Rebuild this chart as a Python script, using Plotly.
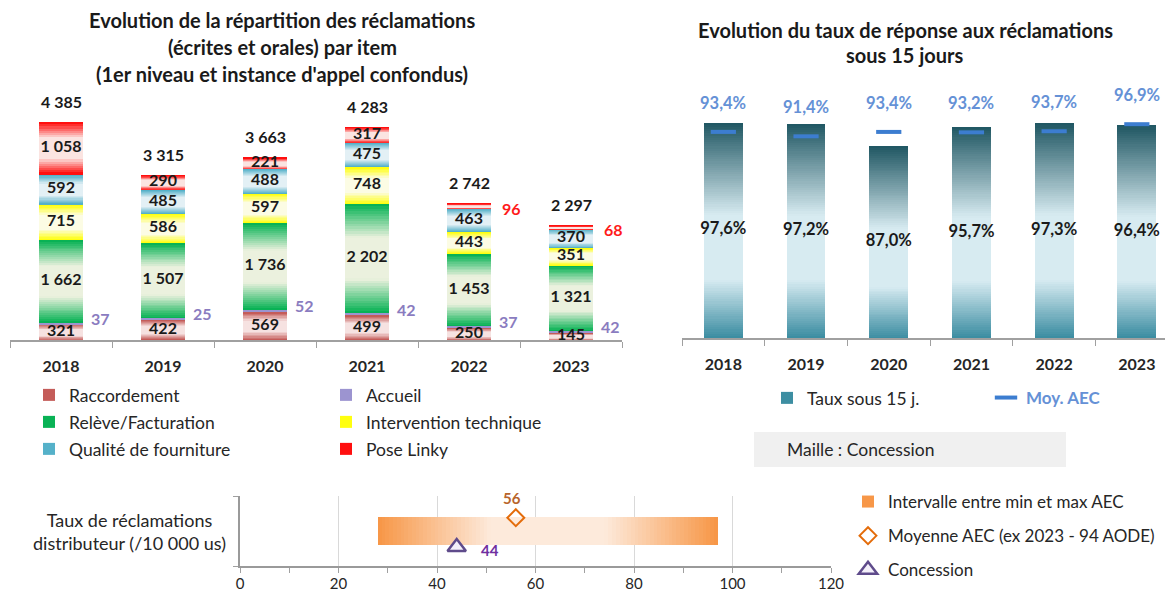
import plotly.graph_objects as go

# ---------------- data ----------------
YEARS = ["2018", "2019", "2020", "2021", "2022", "2023"]

RACCORDEMENT = [321, 422, 569, 499, 250, 145]
ACCUEIL = [37, 25, 52, 42, 37, 42]
RELEVE_FACTURATION = [1662, 1507, 1736, 2202, 1453, 1321]
INTERVENTION_TECHNIQUE = [715, 586, 597, 748, 443, 351]
QUALITE_FOURNITURE = [592, 485, 488, 475, 463, 370]
POSE_LINKY = [1058, 290, 221, 317, 96, 68]
TOTALS = [4385, 3315, 3663, 4283, 2742, 2297]

TAUX_SOUS_15J = [97.6, 97.2, 87.0, 95.7, 97.3, 96.4]
MOY_AEC = [93.4, 91.4, 93.4, 93.2, 93.7, 96.9]

RATE_CATEGORY = "Taux de réclamations<br>distributeur (/10 000 us)"
AEC_MIN = 28
AEC_MAX = 97
AEC_MOYENNE = 56
CONCESSION = 44

# ---------------- helpers ----------------
PAGE_W, PAGE_H = 1173, 599
OFF = 8  # default margin of the html body around the figure
W, H = PAGE_W - 2 * OFF, PAGE_H - 2 * OFF
FONT = "Lato, 'Open Sans', sans-serif"
DARK = "#262626"


def px(x):
    return (x - OFF) / W


def py(y):
    return 1 - (y - OFF) / H


def rgb(h):
    h = h.lstrip("#")
    return [int(h[i:i + 2], 16) for i in (0, 2, 4)]


def mix(c1, c2, f):
    a, b = rgb(c1), rgb(c2)
    return "rgb(%d,%d,%d)" % tuple(round(a[i] + (b[i] - a[i]) * f) for i in range(3))


def sym_grad(edge, center, t, gain):
    f = min(1.0, (1 - abs(2 * t - 1)) * gain)
    return mix(edge, center, f)


def stops_grad(stops, t):
    for (t0, c0), (t1, c1) in zip(stops[:-1], stops[1:]):
        if t0 <= t <= t1:
            return mix(c0, c1, (t - t0) / (t1 - t0) if t1 > t0 else 0)
    return stops[-1][1]


def fmt_int(v):
    return f"{v:,}".replace(",", " ")


def fmt_pct(v):
    return f"{v:.1f}%".replace(".", ",")


fig = go.Figure()
annotations = []

# ---------------- left chart : stacked bars ----------------
LEFT_SERIES = [
    dict(name="Raccordement", values=RACCORDEMENT, edge="#c0504d", center="#f6e2e1", legend="legend", slices=20),
    dict(name="Accueil", values=ACCUEIL, edge="#9c94d0", center="#c9c4e8", legend="legend", slices=1),
    dict(name="Relève/Facturation", values=RELEVE_FACTURATION, edge="#00b050", center="#ebf1de", legend="legend2", slices=44),
    dict(name="Intervention technique", values=INTERVENTION_TECHNIQUE, edge="#ffff00", center="#fcfce4", legend="legend2", slices=24),
    dict(name="Qualité de fourniture", values=QUALITE_FOURNITURE, edge="#4bacc6", center="#e3f0f5", legend="legend3", slices=24),
    dict(name="Pose Linky", values=POSE_LINKY, edge="#ff0000", center="#fbe4e1", legend="legend3", slices=24),
]
LEFT_BAR_WIDTH = 0.43
PL_OUTSIDE_BELOW = 150

for s in LEFT_SERIES:
    k_n = s["slices"]
    for k in range(k_n):
        t = (k + 0.5) / k_n
        col = s["edge"] if k_n == 1 else sym_grad(s["edge"], s["center"], t, 1.6)
        fig.add_trace(go.Bar(
            x=YEARS, y=[v / k_n for v in s["values"]], width=LEFT_BAR_WIDTH,
            marker=dict(color=col, line=dict(width=0)),
            name=s["name"], legendgroup=s["name"], showlegend=(k == 0),
            legend=s["legend"], hoverinfo="skip", xaxis="x", yaxis="y"))

cum = [0] * len(YEARS)
in_x, in_y, in_t = [], [], []
for s in LEFT_SERIES:
    for i, v in enumerate(s["values"]):
        mid = cum[i] + v / 2
        if s["name"] == "Accueil":
            annotations.append(dict(x=i, y=mid, xref="x", yref="y", text=str(v),
                                    showarrow=False, xanchor="left", yanchor="middle", xshift=28, yshift=5,
                                    font=dict(family=FONT, size=16, color="#8a7cc0", weight="bold")))
        elif s["name"] == "Pose Linky" and v < PL_OUTSIDE_BELOW:
            annotations.append(dict(x=i, y=mid, xref="x", yref="y", text=str(v),
                                    showarrow=False, xanchor="left", yanchor="middle", xshift=31, yshift=-2,
                                    font=dict(family=FONT, size=16, color="#ff1a1a", weight="bold")))
        else:
            in_x.append(YEARS[i])
            in_y.append(mid)
            in_t.append(fmt_int(v))
        cum[i] += v

fig.add_trace(go.Scatter(x=in_x, y=in_y, text=in_t, mode="text", showlegend=False,
                         textfont=dict(family=FONT, size=16, color="#1a1a1a", weight="bold"),
                         hoverinfo="skip", xaxis="x", yaxis="y"))

for i, tot in enumerate(TOTALS):
    annotations.append(dict(x=i, y=tot, xref="x", yref="y", text=fmt_int(tot), showarrow=False,
                            xanchor="center", yanchor="middle", yshift=21,
                            font=dict(family=FONT, size=16, color="#1a1a1a", weight="bold")))

# ---------------- right chart : response rate ----------------
RIGHT_STOPS = [(0.0, "#3a8ca1"), (0.27, "#d7ebf1"), (0.57, "#d7ebf1"), (1.0, "#1f5662")]
RIGHT_SLICES = 100
for k in range(RIGHT_SLICES):
    t = (k + 0.5) / RIGHT_SLICES
    fig.add_trace(go.Bar(
        x=YEARS, y=[v / RIGHT_SLICES for v in TAUX_SOUS_15J], width=0.47,
        marker=dict(color=stops_grad(RIGHT_STOPS, t), line=dict(width=0)),
        name="Taux sous 15 j.", legendgroup="taux", showlegend=(k == 0), legend="legend4",
        hoverinfo="skip", xaxis="x2", yaxis="y2"))

fig.add_trace(go.Scatter(x=YEARS, y=[v / 2 for v in TAUX_SOUS_15J], text=[fmt_pct(v) for v in TAUX_SOUS_15J],
                         mode="text", showlegend=False, hoverinfo="skip",
                         textfont=dict(family=FONT, size=16.5, color="#1a1a1a", weight="bold"),
                         xaxis="x2", yaxis="y2"))

fig.add_trace(go.Scatter(x=YEARS, y=MOY_AEC, mode="markers", name="Moy. AEC", legend="legend5",
                         marker=dict(symbol="line-ew", size=18, color="#3c7dd0",
                                     line=dict(width=4, color="#3c7dd0")),
                         xaxis="x2", yaxis="y2"))
for i, v in enumerate(MOY_AEC):
    annotations.append(dict(x=i, y=v, xref="x2", yref="y2", text=fmt_pct(v), showarrow=False,
                            xanchor="center", yanchor="middle", yshift=29,
                            font=dict(family=FONT, size=16.5, color="#6591d6", weight="bold")))

# ---------------- bottom chart : complaint rate ----------------
BOTTOM_SLICES = 90
BAR_H = 0.414
DIAMOND_OFFSET = 0.19
TRIANGLE_OFFSET = -0.23
fig.add_trace(go.Bar(x=[AEC_MIN], y=[0], orientation="h", width=BAR_H,
                     marker=dict(color="rgba(0,0,0,0)", line=dict(width=0)),
                     showlegend=False, hoverinfo="skip", xaxis="x3", yaxis="y3"))
for k in range(BOTTOM_SLICES):
    t = (k + 0.5) / BOTTOM_SLICES
    fig.add_trace(go.Bar(
        x=[(AEC_MAX - AEC_MIN) / BOTTOM_SLICES], y=[0], orientation="h", width=BAR_H,
        marker=dict(color=sym_grad("#f79646", "#fdeadb", t, 1.5), line=dict(width=0)),
        name="Intervalle entre min et max AEC", legendgroup="interv", showlegend=(k == 0),
        legend="legend6", hoverinfo="skip", xaxis="x3", yaxis="y3"))

fig.add_trace(go.Scatter(x=[AEC_MOYENNE], y=[DIAMOND_OFFSET], mode="markers",
                         name="Moyenne AEC (ex 2023 - 94 AODE)", legendgroup="moy", legend="legend6",
                         marker=dict(symbol="diamond-open", size=13, color="#e46c0a", line=dict(width=2)),
                         xaxis="x3", yaxis="y3"))
fig.add_trace(go.Scatter(x=[CONCESSION], y=[TRIANGLE_OFFSET], mode="markers",
                         name="Concession", legendgroup="conc", legend="legend6",
                         marker=dict(symbol="triangle-up", size=16, color="#f4f0fa",
                                     line=dict(width=2.5, color="#5f4b8b")),
                         xaxis="x3", yaxis="y3"))

annotations.append(dict(x=AEC_MOYENNE, y=DIAMOND_OFFSET, xref="x3", yref="y3", text=str(AEC_MOYENNE),
                        showarrow=False, xanchor="center", yanchor="middle", yshift=20, xshift=-4,
                        font=dict(family=FONT, size=15, color="#b8652c", weight="bold")))
annotations.append(dict(x=CONCESSION, y=TRIANGLE_OFFSET, xref="x3", yref="y3", text=str(CONCESSION),
                        showarrow=False, xanchor="left", yanchor="middle", xshift=22, yshift=-3,
                        font=dict(family=FONT, size=15, color="#7030a0", weight="bold")))
annotations.append(dict(x=px(129), y=0, xref="paper", yref="y3", text=RATE_CATEGORY, showarrow=False,
                        xanchor="center", yanchor="middle", align="center",
                        font=dict(family=FONT, size=18, color=DARK)))

# ---------------- titles & misc text ----------------
TITLE_FONT = dict(family=FONT, size=20, color="#1a1a1a", weight="bold")
for txt, yy in [("Evolution de la répartition des réclamations", 20),
                ("(écrites et orales) par item", 47),
                ("(1er niveau et instance d'appel confondus)", 74)]:
    annotations.append(dict(x=px(282), y=py(yy), xref="paper", yref="paper", text=txt,
                            xanchor="center", yanchor="middle", showarrow=False, font=TITLE_FONT))
for txt, yy in [("Evolution du taux de réponse aux réclamations", 30),
                ("sous 15 jours", 55)]:
    annotations.append(dict(x=px(905), y=py(yy), xref="paper", yref="paper", text=txt,
                            xanchor="center", yanchor="middle", showarrow=False, font=TITLE_FONT))
annotations.append(dict(x=px(785), y=py(449), xref="paper", yref="paper", text="Maille : Concession",
                        showarrow=False, xanchor="left", yanchor="middle",
                        font=dict(family=FONT, size=17.5, color=DARK)))

shapes = [dict(type="rect", xref="paper", yref="paper", x0=px(754), x1=px(1066), y0=py(467), y1=py(432),
               fillcolor="#f0f0f0", line=dict(width=0), layer="below")]

AXIS_GREY = "#a0a0a0"
cat_axis = dict(type="category", showline=True, linecolor=AXIS_GREY, linewidth=1.5, ticks="outside",
                tickson="boundaries", ticklen=6, tickcolor=AXIS_GREY, showgrid=False, zeroline=False,
                tickfont=dict(family=FONT, size=16, color=DARK, weight="bold"), ticklabelstandoff=11,
                fixedrange=True, automargin=False)

leg_font = dict(family=FONT, size=17.5, color=DARK)


def row_legend(y):
    return dict(x=px(29), y=py(y), xanchor="left", yanchor="top", orientation="h",
                entrywidth=252, entrywidthmode="pixels", font=leg_font, bgcolor="rgba(0,0,0,0)")


# right chart: category width, axis cut by the page edge
RIGHT_CAT_PX = 82.7
right_range_max = -0.5 + (PAGE_W - OFF - 682) / RIGHT_CAT_PX

fig.update_layout(
    width=W, height=H, margin=dict(l=0, r=0, t=0, b=0, autoexpand=False),
    paper_bgcolor="white", plot_bgcolor="white", barmode="stack", bargap=0,
    font=dict(family=FONT, color=DARK),
    xaxis=dict(domain=[px(10), px(622)], anchor="y", range=[-0.5, 5.5], **cat_axis),
    yaxis=dict(domain=[py(340), py(90)], range=[0, 5030], visible=False, anchor="x", fixedrange=True,
               automargin=False),
    xaxis2=dict(domain=[px(682), 1], anchor="y2", range=[-0.5, right_range_max], **cat_axis),
    yaxis2=dict(domain=[py(338), py(90)], range=[0, 112.4], visible=False, anchor="x2", fixedrange=True,
                automargin=False),
    xaxis3=dict(domain=[px(240), px(831)], anchor="y3", range=[0, 120], dtick=20, tick0=0,
                ticks="outside", ticklen=5, tickcolor=AXIS_GREY, showline=True, linecolor="#9a9a9a",
                linewidth=2, showgrid=True, gridcolor="#d9d9d9", zeroline=False, ticklabelstandoff=-2,
                minor=dict(dtick=10, tick0=0, ticks="outside", ticklen=5, tickcolor=AXIS_GREY, showgrid=False),
                tickfont=dict(family=FONT, size=15, color=DARK), fixedrange=True, automargin=False),
    yaxis3=dict(domain=[py(566), py(496)], anchor="x3", range=[-0.5, 0.5], showline=True,
                linecolor="#9a9a9a", linewidth=1.5, showticklabels=False, ticks="", showgrid=False,
                zeroline=False, tickvals=[], automargin=False,
                minor=dict(tickvals=[-0.5, 0.5], ticks="outside", ticklen=5, tickcolor=AXIS_GREY, showgrid=False),
                fixedrange=True),
    legend=row_legend(377),
    legend2=row_legend(404),
    legend3=row_legend(431),
    legend4=dict(x=px(767), y=py(380), xanchor="left", yanchor="top", font=leg_font, bgcolor="rgba(0,0,0,0)"),
    legend5=dict(x=px(986), y=py(380), xanchor="left", yanchor="top",
                 font=dict(family=FONT, size=17, color="#6591d6", weight="bold"), bgcolor="rgba(0,0,0,0)"),
    legend6=dict(x=px(848), y=py(484), xanchor="left", yanchor="top",
                 font=dict(family=FONT, size=17, color=DARK), tracegroupgap=9,
                 bgcolor="rgba(0,0,0,0)"),
    annotations=annotations,
    shapes=shapes,
)

fig.write_html("out.html")
